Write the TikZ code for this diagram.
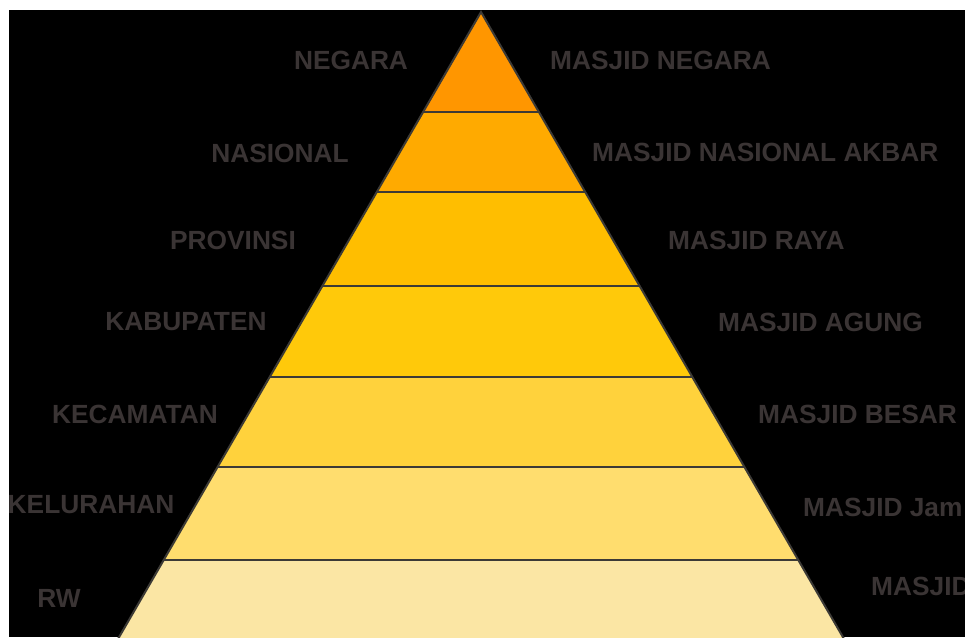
\documentclass[tikz,border=0pt]{standalone}
\usepackage{fontspec}
\setmainfont{Liberation Sans}
\usepackage{xcolor}
\usetikzlibrary{positioning, calc}

\definecolor{bandA}{HTML}{FF9600}
\definecolor{bandB}{HTML}{FFAA00}
\definecolor{bandC}{HTML}{FFBE00}
\definecolor{bandD}{HTML}{FFC90A}
\definecolor{bandE}{HTML}{FFD23C}
\definecolor{bandF}{HTML}{FFDD6E}
\definecolor{bandG}{HTML}{FBE6A4}
\definecolor{edgegray}{HTML}{3C3A36}
\definecolor{labelgray}{HTML}{3A3434}

\begin{document}
\begin{tikzpicture}[x=1pt, y=-1pt,
  lvl/.style={font=\fontsize{26.3}{30}\selectfont\bfseries, text=labelgray,
              inner sep=0pt},
  lvlL/.style={lvl, anchor=center},
  lvlR/.style={lvl, anchor=west},
  sep/.style={draw=edgegray, line width=2pt},
]
\useasboundingbox (0,0) rectangle (965,637);
\fill[white] (0,0) rectangle (965,637);
\fill[black] (9,10) rectangle (965,637);

% pyramid bands, half width = 0.579*(y-12)
\foreach \ya/\yb/\col in {12/112/bandA, 112/192/bandB, 192/286/bandC,
                          286/377/bandD, 377/467/bandE, 467/560/bandF,
                          560/650/bandG} {
  \fill[\col] ({481-0.579*(\ya-12)},\ya) -- ({481+0.579*(\ya-12)},\ya)
    -- ({481+0.579*(\yb-12)},\yb) -- ({481-0.579*(\yb-12)},\yb) -- cycle;
}
\foreach \y in {112,192,286,377,467,560}
  \draw[sep] ({481-0.579*(\y-12)},\y) -- ({481+0.579*(\y-12)},\y);
\coordinate (apex) at (481,12);
\coordinate (baseL) at ({481-0.579*638},650);
\coordinate (baseR) at ({481+0.579*638},650);
\draw[sep, line join=miter] (baseL) -- (apex) -- (baseR);

% levels, left
\node[lvlL] (negara)  at (351,60)  {NEGARA};
\node[lvlL] (nasional) at (280,153) {NASIONAL};
\node[lvlL] (provinsi) at (233,240) {PROVINSI};
\node[lvlL] (kabupaten) at (186,322) {KABUPATEN};
\node[lvlL] (kecamatan) at (135,414) {KECAMATAN};
\node[lvlL] (kelurahan) at (91,505) {KELURAHAN};
\node[lvlL] (rw) at (59,598) {RW};

% mosques, right
\node[lvlR] (mNegara) at (550,60)  {MASJID NEGARA};
\node[lvlR] (mNasional) at (592,152) {MASJID NASIONAL AKBAR};
\node[lvlR] (mRaya) at (668,240) {MASJID RAYA};
\node[lvlR] (mAgung) at (718,322) {MASJID AGUNG};
\node[lvlR] (mBesar) at (758,414) {MASJID BESAR};
\node[lvlR] (mJami) at (803,507) {MASJID Jam};
\node[lvlR] (mRw) at (871,586) {MASJID};
\end{tikzpicture}
\end{document}
